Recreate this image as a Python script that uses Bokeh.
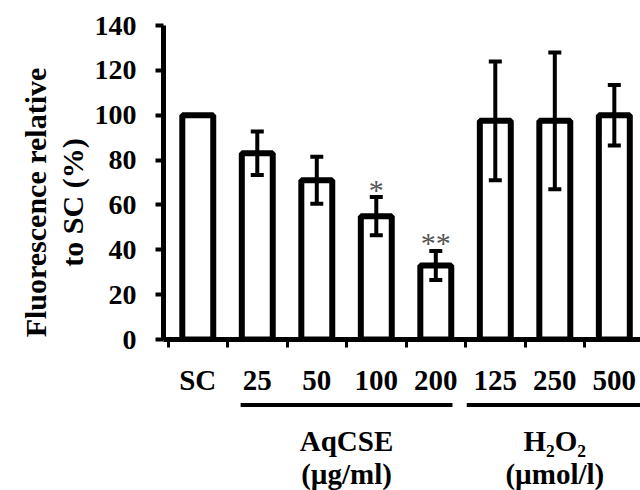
import math
from bokeh.plotting import figure
from bokeh.layouts import row, column
from bokeh.models import ColumnDataSource, Range1d, FixedTicker, Whisker, TeeHead
from bokeh.core.properties import value
from bokeh.embed import file_html
from bokeh.resources import INLINE

# ---- data ----
categories = ["SC", "25", "50", "100", "200", "125", "250", "500"]
means = [100, 83, 71, 55, 33, 97.5, 97.5, 100]
errors = [0, 9.7, 10.5, 8.5, 6.5, 26.5, 30.5, 13.5]
signif = ["", "", "", "*", "**", "", "", ""]
group_names = ["AqCSE", "H₂O₂"]
group_units = ["(µg/ml)", "(µmol/l)"]
group_members = [["25", "50", "100", "200"], ["125", "250", "500"]]
y_ticks = [0, 20, 40, 60, 80, 100, 120, 140]
y_label_lines = ["Fluorescence relative", "to SC (%)"]

# ---- layout constants (pixels) ----
TOTAL_W, TOTAL_H = 640, 490
LW = 90                      # left panel (y title) width
MW = TOTAL_W - LW            # main width
MH = 398                     # main height
BH = TOTAL_H - MH            # bottom panel height
FL = 163 - LW                # frame left inside main
FT, FB = 25, 342             # frame top/bottom (abs)
X0, X1 = 0.424, 8.44
Y0, Y1 = 0, 140
pxy = (FB - FT) / (Y1 - Y0)

FONT = "Liberation Serif"
xs = [i + 1 for i in range(len(categories))]
pos = {c: x for c, x in zip(categories, xs)}
xr = Range1d(X0, X1)

# ---- main figure ----
p = figure(width=MW, height=MH, output_backend="svg", toolbar_location=None,
           x_range=xr, y_range=Range1d(Y0, Y1),
           min_border_left=FL, min_border_top=FT, min_border_bottom=MH - FB,
           min_border_right=0)
p.outline_line_color = None
p.grid.visible = False

src = ColumnDataSource(dict(x=xs, top=means))
p.vbar(x="x", top="top", width=0.52, bottom=0, source=src,
       fill_color="white", line_color="black", line_width=6)

ex = [x for x, e in zip(xs, errors) if e > 0]
eu = [m + e for m, e in zip(means, errors) if e > 0]
el = [m - e for m, e in zip(means, errors) if e > 0]
esrc = ColumnDataSource(dict(x=ex, upper=eu, lower=el))
p.add_layout(Whisker(source=esrc, base="x", upper="upper", lower="lower",
                     line_width=4, line_color="black", level="overlay",
                     upper_head=TeeHead(size=13, line_width=4, line_color="black"),
                     lower_head=TeeHead(size=13, line_width=4, line_color="black")))

sx = [x for x, s in zip(xs, signif) if s]
sy = [m + e + 8 / pxy for m, e, s in zip(means, errors, signif) if s]
st = [s for s in signif if s]
p.text(x=sx, y=sy, text=st, text_align="center", text_baseline="alphabetic",
       text_font=value(FONT), text_font_size="30px", text_color="#555555")

xa = p.xaxis[0]
xa.ticker = FixedTicker(ticks=xs, minor_ticks=[x - 0.5 for x in xs])
xa.major_label_overrides = {x: c for x, c in zip(xs, categories)}
xa.major_tick_line_color = None
xa.major_tick_out = 0
xa.major_tick_in = 0
xa.minor_tick_out = 8
xa.minor_tick_in = 0
xa.minor_tick_line_width = 3
xa.minor_tick_line_color = "black"
xa.axis_line_width = 5
xa.axis_line_color = "black"
xa.major_label_standoff = 16
xa.major_label_text_font = FONT
xa.major_label_text_font_style = "bold"
xa.major_label_text_font_size = "29px"
xa.major_label_text_color = "black"

ya = p.yaxis[0]
ya.ticker = FixedTicker(ticks=y_ticks, minor_ticks=[])
ya.major_tick_out = 8
ya.major_tick_in = 0
ya.major_tick_line_width = 4
ya.major_tick_line_color = "black"
ya.axis_line_width = 5
ya.axis_line_color = "black"
ya.major_label_standoff = 19
ya.major_label_text_font = FONT
ya.major_label_text_font_style = "bold"
ya.major_label_text_font_size = "28px"
ya.major_label_text_color = "black"

# ---- left panel: y title ----
lf = figure(width=LW, height=TOTAL_H, output_backend="svg", toolbar_location=None,
            x_range=Range1d(0, LW), y_range=Range1d(TOTAL_H, 0),
            x_axis_location=None, y_axis_location=None,
            min_border_left=0, min_border_right=0, min_border_top=0, min_border_bottom=0)
lf.outline_line_color = None
lf.grid.visible = False
lf.text(x=[35, 72], y=[202, 202], text=y_label_lines, angle=math.pi / 2,
        text_align="center", text_baseline="alphabetic",
        text_font=value(FONT), text_font_style="bold", text_font_size="30px",
        text_color="black")

# ---- bottom panel: group labels ----
bf = figure(width=MW, height=BH, output_backend="svg", toolbar_location=None,
            x_range=xr, y_range=Range1d(BH, 0),
            x_axis_location=None, y_axis_location=None,
            min_border_left=FL, min_border_right=0, min_border_top=0, min_border_bottom=0)
bf.outline_line_color = None
bf.grid.visible = False
pads = [(0.28, 0.28), (0.48, 0.48)]
gx0 = [min(pos[c] for c in m) - pl for m, (pl, pr) in zip(group_members, pads)]
gx1 = [max(pos[c] for c in m) + pr for m, (pl, pr) in zip(group_members, pads)]
gxc = [(min(pos[c] for c in m) + max(pos[c] for c in m)) / 2 for m in group_members]
line_y = 404.5 - MH
bf.segment(x0=gx0, y0=[line_y] * 2, x1=gx1, y1=[line_y] * 2,
           line_width=4, line_color="black")
bf.text(x=gxc, y=[440 - MH] * 2, text=group_names, text_align="center",
        text_baseline="middle", text_font=value(FONT), text_font_style="bold",
        text_font_size="29px", text_color="black")
bf.text(x=gxc, y=[473 - MH] * 2, text=group_units, text_align="center",
        text_baseline="middle", text_font=value(FONT), text_font_style="bold",
        text_font_size="29px", text_color="black")

layout = row(lf, column(p, bf))
open("out.html", "w").write(file_html(layout, INLINE))
